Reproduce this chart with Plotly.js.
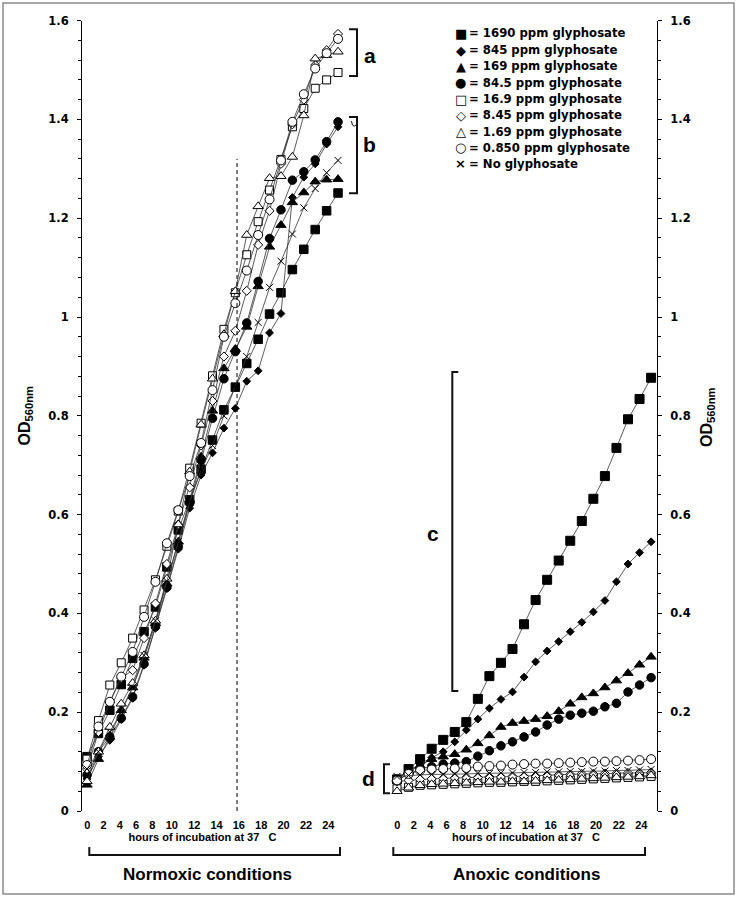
<!DOCTYPE html>
<html>
<head>
<meta charset="utf-8">
<script src="https://cdn.plot.ly/plotly-3.0.1.min.js"></script>
<style>
  body { margin: 0; background: #fff; }
  #plot { width: 738px; height: 901px; }
</style>
</head>
<body>
<div id="plot"></div>
<script>
// readings (one every ~hour), x tick labels and legend texts
const readings = [0, 1, 2, 3, 4, 5, 6, 7, 8, 9, 10, 11, 12, 13, 14, 15, 16, 17, 18, 19, 20, 21, 22];
const hourLabels = ['0', '2', '4', '6', '8', '10', '12', '14', '16', '18', '20', '22', '24'];
const concLabels = ['1690 ppm glyphosate', '845 ppm glyphosate', '169 ppm glyphosate', '84.5 ppm glyphosate',
    '16.9 ppm glyphosate', '8.45 ppm glyphosate', '1.69 ppm glyphosate', '0.850 ppm glyphosate', 'No glyphosate'];

// OD560 under normoxic conditions
const norm1690 = [0.110, 0.157, 0.204, 0.256, 0.309, 0.363, 0.413, 0.494, 0.569, 0.630, 0.692, 0.751, 0.812, 0.858, 0.906, 0.955, 1.006, 1.049, 1.096, 1.137, 1.177, 1.215, 1.251];
const norm845 = [0.065, 0.110, 0.143, 0.185, 0.228, 0.295, 0.370, 0.450, 0.530, 0.613, 0.680, 0.725, 0.775, 0.815, 0.870, 0.891, 0.968, 1.007, 1.242, 1.283, 1.310, 1.350, 1.385];
const norm169 = [0.053, 0.105, 0.150, 0.204, 0.250, 0.310, 0.380, 0.460, 0.545, 0.630, 0.717, 0.810, 0.896, 0.935, 0.980, 1.062, 1.142, 1.186, 1.232, 1.252, 1.274, 1.278, 1.279];
const norm84 = [0.073, 0.120, 0.150, 0.188, 0.231, 0.298, 0.373, 0.453, 0.535, 0.623, 0.710, 0.795, 0.875, 0.930, 0.988, 1.072, 1.159, 1.217, 1.277, 1.294, 1.318, 1.355, 1.395];
const norm16 = [0.105, 0.183, 0.255, 0.300, 0.350, 0.407, 0.468, 0.536, 0.607, 0.694, 0.785, 0.881, 0.975, 1.049, 1.126, 1.193, 1.257, 1.319, 1.385, 1.422, 1.463, 1.480, 1.495];
const norm8 = [0.085, 0.160, 0.220, 0.269, 0.285, 0.350, 0.420, 0.500, 0.580, 0.655, 0.740, 0.830, 0.920, 0.972, 1.053, 1.146, 1.215, 1.310, 1.390, 1.440, 1.510, 1.540, 1.573];
const norm1 = [0.060, 0.120, 0.170, 0.217, 0.259, 0.315, 0.385, 0.470, 0.580, 0.687, 0.782, 0.875, 0.965, 1.052, 1.166, 1.224, 1.281, 1.285, 1.324, 1.408, 1.523, 1.530, 1.537];
const norm085 = [0.093, 0.171, 0.221, 0.272, 0.322, 0.393, 0.464, 0.542, 0.609, 0.678, 0.745, 0.852, 0.960, 1.028, 1.094, 1.166, 1.238, 1.317, 1.395, 1.451, 1.503, 1.534, 1.563];
const normNone = [0.085, 0.120, 0.160, 0.200, 0.250, 0.315, 0.385, 0.465, 0.545, 0.625, 0.690, 0.740, 0.800, 0.860, 0.920, 0.989, 1.060, 1.113, 1.168, 1.221, 1.260, 1.292, 1.317];

// OD560 under anoxic conditions
const anox1690 = [0.064, 0.085, 0.105, 0.126, 0.144, 0.160, 0.180, 0.227, 0.273, 0.300, 0.328, 0.378, 0.427, 0.468, 0.507, 0.547, 0.587, 0.632, 0.678, 0.735, 0.793, 0.834, 0.877];
const anox845 = [0.065, 0.080, 0.095, 0.108, 0.120, 0.140, 0.164, 0.186, 0.208, 0.226, 0.241, 0.271, 0.302, 0.324, 0.343, 0.363, 0.382, 0.403, 0.426, 0.464, 0.500, 0.523, 0.545];
const anox169 = [0.065, 0.080, 0.092, 0.105, 0.110, 0.115, 0.124, 0.137, 0.153, 0.170, 0.178, 0.182, 0.186, 0.192, 0.202, 0.217, 0.230, 0.238, 0.250, 0.264, 0.279, 0.296, 0.312];
const anox84 = [0.062, 0.075, 0.085, 0.090, 0.095, 0.097, 0.100, 0.111, 0.122, 0.132, 0.140, 0.150, 0.160, 0.174, 0.186, 0.194, 0.198, 0.202, 0.211, 0.218, 0.241, 0.255, 0.270];
const anox16 = [0.045, 0.048, 0.052, 0.053, 0.054, 0.055, 0.056, 0.057, 0.058, 0.058, 0.059, 0.060, 0.060, 0.061, 0.062, 0.063, 0.064, 0.065, 0.066, 0.067, 0.068, 0.069, 0.070];
const anox8 = [0.060, 0.062, 0.064, 0.065, 0.066, 0.067, 0.068, 0.068, 0.069, 0.069, 0.070, 0.070, 0.071, 0.072, 0.073, 0.074, 0.075, 0.075, 0.076, 0.076, 0.077, 0.077, 0.078];
const anox1 = [0.040, 0.047, 0.052, 0.054, 0.055, 0.056, 0.057, 0.058, 0.059, 0.059, 0.060, 0.060, 0.061, 0.062, 0.063, 0.064, 0.065, 0.066, 0.067, 0.068, 0.069, 0.070, 0.072];
const anox085 = [0.062, 0.075, 0.082, 0.084, 0.085, 0.086, 0.087, 0.090, 0.091, 0.092, 0.094, 0.095, 0.096, 0.096, 0.097, 0.098, 0.099, 0.100, 0.100, 0.101, 0.102, 0.103, 0.105];
const anoxNone = [0.070, 0.072, 0.073, 0.074, 0.074, 0.075, 0.075, 0.076, 0.076, 0.077, 0.077, 0.078, 0.078, 0.079, 0.079, 0.080, 0.080, 0.081, 0.081, 0.082, 0.082, 0.083, 0.084];

const normoxic = [norm1690, norm845, norm169, norm84, norm16, norm8, norm1, norm085, normNone];
const anoxic = [anox1690, anox845, anox169, anox84, anox16, anox8, anox1, anox085, anoxNone];

// marker look per series, same order as concLabels
const markerStyles = [
    { symbol: 'square', fill: '#000', size: 8.5 },
    { symbol: 'diamond', fill: '#000', size: 6 },
    { symbol: 'triangle-up', fill: '#000', size: 9 },
    { symbol: 'circle', fill: '#000', size: 8.5 },
    { symbol: 'square', fill: '#fff', size: 8 },
    { symbol: 'diamond', fill: '#fff', size: 7 },
    { symbol: 'triangle-up', fill: '#fff', size: 9 },
    { symbol: 'circle', fill: '#fff', size: 9 },
    { symbol: 'x-thin-open', fill: '#000', size: 7 }
];
const legendGlyphs = ['\u25A0', '\u25C6', '\u25B2', '\u25CF', '\u25A1', '\u25C7', '\u25B3', '\u25CB', '\u00D7'];

// where the hour labels sit, in reading units
const tickPos = [0.02, 1.45, 2.88, 4.3, 5.73, 7.43, 9.4, 11.35, 13.31, 15.27, 17.23, 19.2, 21.15];
const dashedAt = 13.15;

// pixel -> paper helpers for the decorations
const W = 738, H = 901;
const fx = px => px / W;
const fy = py => 1 - py / H;
function pxPath(points) {
    return points.map((p, i) => (i ? 'L' : 'M') + fx(p[0]) + ',' + fy(p[1])).join(' ');
}

const traces = [];
normoxic.forEach((series, k) => {
    const st = markerStyles[k];
    traces.push({
        x: readings, y: series, xaxis: 'x', yaxis: 'y',
        type: 'scatter', mode: 'lines+markers', name: concLabels[k],
        line: { color: '#333', width: 0.8 },
        marker: { symbol: st.symbol, size: st.size, color: st.fill, line: { color: '#000', width: 1 } },
        cliponaxis: false
    });
});
anoxic.forEach((series, k) => {
    const st = markerStyles[k];
    traces.push({
        x: readings, y: series, xaxis: 'x2', yaxis: 'y2',
        type: 'scatter', mode: 'lines+markers', name: concLabels[k],
        line: { color: '#333', width: 0.8 },
        marker: { symbol: st.symbol, size: k === 0 ? 9 : st.size, color: st.fill, line: { color: '#000', width: 1 } },
        cliponaxis: false
    });
});

const yTickFont = { family: 'DejaVu Sans, sans-serif', size: 11.5, weight: 'bold', color: '#000' };
const xTickFont = { family: 'Liberation Sans, Arial, sans-serif', size: 11, weight: 'bold', color: '#000' };
const xTitle = { text: 'hours of incubation at 37   C', font: { family: 'Liberation Sans, Arial, sans-serif', size: 11, weight: 'bold', color: '#000' }, standoff: 1 };

function yAxis(extra) {
    return Object.assign({
        domain: [fy(811), fy(20.6)], range: [0, 1.6], dtick: 0.2, anchor: 'free',
        showline: true, linecolor: '#000', linewidth: 1,
        ticks: 'outside', ticklen: 4, tickcolor: '#000', tickwidth: 1,
        minor: { dtick: 0.04, ticks: 'outside', ticklen: 3, tickcolor: '#000', showgrid: false },
        showgrid: false, zeroline: false, automargin: false,
        tickfont: yTickFont, ticklabelstandoff: 6
    }, extra);
}
function xAxis(extra) {
    return Object.assign({
        showline: false, showgrid: false, zeroline: false, ticks: '', automargin: false,
        tickmode: 'array', tickvals: tickPos, ticktext: hourLabels,
        tickfont: xTickFont, ticklabelstandoff: 6, title: xTitle
    }, extra);
}

const shapes = [];
const bracketLine = { color: '#111', width: 2 };
[
    [[89.3, 847], [89.3, 855], [340, 855], [340, 847]],
    [[393.3, 847], [393.3, 855], [645, 855], [645, 847]],
    [[349, 29.3], [357, 29.3], [357, 76], [349, 76]],
    [[349, 117], [357, 117], [357, 193.3], [349, 193.3]],
    [[458.3, 372], [452.3, 372], [452.3, 691], [458.3, 691]],
    [[390, 764.3], [384, 764.3], [384, 793.3], [390, 793.3]]
].forEach(pts => {
    shapes.push({ type: 'path', xref: 'paper', yref: 'paper', path: pxPath(pts), line: bracketLine });
});
// little hook at the top of bracket b
shapes.push({
    type: 'path', xref: 'paper', yref: 'paper', line: { color: '#111', width: 1 },
    path: 'M' + fx(351.5) + ',' + fy(121) + ' Q' + fx(352.5) + ',' + fy(128.5) + ' ' + fx(356) + ',' + fy(125)
});
// dashed marker in the normoxic panel
shapes.push({
    type: 'line', xref: 'x', yref: 'y', x0: dashedAt, x1: dashedAt, y0: 0, y1: 1.32,
    line: { color: '#000', width: 1, dash: '4px,3px' }
});
// grey frame round the figure
shapes.push({
    type: 'rect', xref: 'paper', yref: 'paper', x0: fx(3), x1: fx(734), y0: fy(894), y1: fy(3),
    line: { color: '#8a8a8a', width: 1.5 }
});

const annotations = [];
function note(text, px, py, font, xanchor, angle) {
    annotations.push({
        text: text, xref: 'paper', yref: 'paper', x: fx(px), y: fy(py),
        xanchor: xanchor || 'center', yanchor: 'middle', showarrow: false, font: font,
        textangle: angle || 0
    });
}
const boldFont = (size, family) => ({ family: family || 'Liberation Sans, Arial, sans-serif', size: size, weight: 'bold', color: '#000' });

// y titles sit outside the tick labels on both sides
note('OD<sub>560nm</sub>', 24.5, 416, boldFont(16), 'center', -90);
note('OD<sub>560nm</sub>', 707, 417, boldFont(16), 'center', -90);
note('Normoxic conditions', 207, 874, boldFont(17));
note('Anoxic conditions', 526, 874, boldFont(17));
note('a', 370, 55, boldFont(21));
note('b', 370, 145, boldFont(21));
note('c', 433.3, 533, boldFont(21));
note('d', 368, 778, boldFont(21));

// legend drawn as text rows
const legendRows = [33.5, 50.5, 66.5, 82.8, 99, 115.2, 131.5, 147.5, 163.5];
concLabels.forEach((label, k) => {
    note(legendGlyphs[k], 460.5, legendRows[k], boldFont(13, 'DejaVu Sans, sans-serif'));
    note('= ' + label, 467, legendRows[k], boldFont(11.7, 'DejaVu Sans, sans-serif'), 'left');
});

// x domains are widened to the left so each hours title centres where the reference has it;
// the y axes are placed freely at the original axis lines
const layout = {
    width: W, height: H, autosize: false,
    margin: { l: 0, r: 0, t: 0, b: 0 },
    paper_bgcolor: '#fff', plot_bgcolor: 'rgba(0,0,0,0)',
    showlegend: false,
    font: { family: 'Liberation Sans, Arial, sans-serif', color: '#000' },
    xaxis: xAxis({ domain: [fx(55), fx(350)], range: [-2.805, 23.05], anchor: 'y' }),
    yaxis: yAxis({ position: fx(81), side: 'left' }),
    xaxis2: xAxis({ domain: [fx(395), fx(657)], range: [-0.173, 22.511], anchor: 'y2' }),
    yaxis2: yAxis({ position: fx(657), side: 'right' }),
    shapes: shapes,
    annotations: annotations
};

Plotly.newPlot('plot', traces, layout, { displayModeBar: false, staticPlot: true });
</script>
</body>
</html>
